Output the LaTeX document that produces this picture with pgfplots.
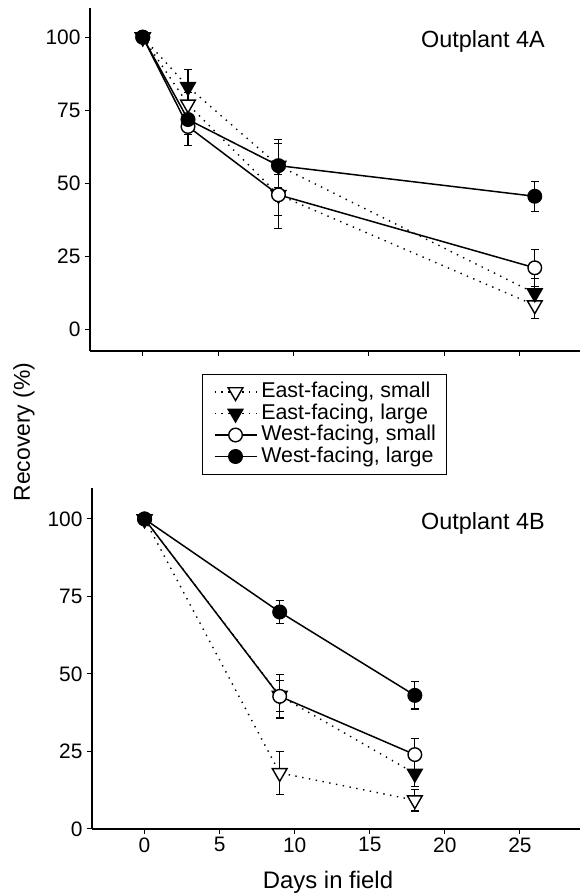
\documentclass[border=0pt]{standalone}
\usepackage{fontspec}
\setmainfont{Liberation Sans}
\usepackage{pgfplots}
\pgfplotsset{compat=1.18}

\pgfplotsset{
  myaxis/.style={
    scale only axis,
    xmin=-3.5, xmax=29,
    axis x line*=bottom, axis y line*=left,
    axis line style={line width=1.1bp},
    tick align=outside,
    major tick length=5bp,
    every tick/.style={line width=1bp, black},
    ytick={0,25,50,75,100},
    xtick={0,5,10,15,20,25},
    tick label style={font=\fontsize{21}{25}\selectfont},
    /pgf/number format/assume math mode=true,
    yticklabel style={xshift=-1bp},
    clip=false,
  },
  ebar/.style={error bars/.cd, y dir=both, y explicit,
    error bar style={solid, line width=1.1bp},
    error mark options={rotate=90, solid, line width=1.1bp, mark size=4bp}},
  es/.style={black, line width=1.4bp, dash pattern=on 1.4bp off 5.5bp,
    mark=triangle*, mark size=8.5bp,
    mark options={solid, rotate=180, fill=white, line width=1.4bp}},
  el/.style={black, line width=1.4bp, dash pattern=on 1.4bp off 5.5bp,
    mark=triangle*, mark size=8.5bp,
    mark options={solid, rotate=180, fill=black, line width=1.4bp}},
  ws/.style={black, line width=1.5bp, solid,
    mark=*, mark size=6.8bp,
    mark options={solid, fill=white, line width=1.4bp}},
  wl/.style={black, line width=1.5bp, solid,
    mark=*, mark size=6.8bp,
    mark options={solid, fill=black, line width=1.4bp}},
}

\begin{document}
\begin{tikzpicture}
\useasboundingbox (0,0) rectangle (581bp,893bp);

% ---------------- Top: Outplant 4A ----------------
\begin{axis}[myaxis,
  at={(90bp,542bp)}, anchor=south west,
  width=490bp, height=343bp,
  ymin=-7.5, ymax=110,
  xticklabels={},
  legend style={at={(axis cs:3.95,-15.4)}, anchor=north west,
    draw=black, line width=0.9bp,
    font=\fontsize{21.5}{22}\selectfont,
    inner xsep=11bp, inner ysep=7.5bp,
    row sep=1.5bp,
    nodes={inner sep=0bp, text height=15.5bp, text depth=4.5bp},
    legend cell align=left},
  legend image code/.code={\draw[mark repeat=2, mark phase=2, #1]
     plot coordinates {(0bp,0bp) (21bp,0bp) (42bp,0bp)};},
]
\addplot[es, ebar] coordinates {(0,100) +- (0,0) (3,77) +- (0,4) (9,46) +- (0,7) (26,8.2) +- (0,4.5)};
\addlegendentry{\hspace{4bp}East-facing, small}
\addplot[el, ebar] coordinates {(0,100) +- (0,0) (3,83) +- (0,6) (9,56) +- (0,9) (26,12.3) +- (0,5)};
\addlegendentry{\hspace{4bp}East-facing, large}
\addplot[ws, ebar] coordinates {(0,100) +- (0,0) (3,69.4) +- (0,6.4) (9,46) +- (0,11.5) (26,21) +- (0,6.4)};
\addlegendentry{\hspace{4bp}West-facing, small\hspace{5bp}}
\addplot[wl, ebar] coordinates {(0,100) +- (0,0) (3,71.8) +- (0,5) (9,56) +- (0,7.6) (26,45.5) +- (0,5.1)};
\addlegendentry{\hspace{4bp}West-facing, large}
\node[anchor=base, font=\fontsize{23.5}{28}\selectfont] at (axis cs:22.57,96.6) {Outplant 4A};
\end{axis}

% ---------------- Bottom: Outplant 4B ----------------
\begin{axis}[myaxis,
  at={(92bp,64bp)}, anchor=south west,
  width=488bp, height=341bp,
  ymin=0, ymax=110,
]
\addplot[es, ebar] coordinates {(0,100) +- (0,0) (9,18.1) +- (0,7) (18,9.3) +- (0,3.5)};
\addplot[el, ebar] coordinates {(0,100) +- (0,0) (9,43) +- (0,5) (18,17.9) +- (0,4.3)};
\addplot[ws, ebar] coordinates {(0,100) +- (0,0) (9,42.8) +- (0,7) (18,24) +- (0,5.2)};
\addplot[wl, ebar] coordinates {(0,100) +- (0,0) (9,70) +- (0,3.8) (18,43.1) +- (0,4.4)};
\node[anchor=base, font=\fontsize{23.5}{28}\selectfont] at (axis cs:22.54,96.7) {Outplant 4B};
\end{axis}

\node[rotate=90, font=\fontsize{23}{27}\selectfont] at (24bp,461bp) {Recovery (\%)};
\node[anchor=base, font=\fontsize{24}{28}\selectfont] at (328bp,5bp) {Days in field};
\end{tikzpicture}
\end{document}
